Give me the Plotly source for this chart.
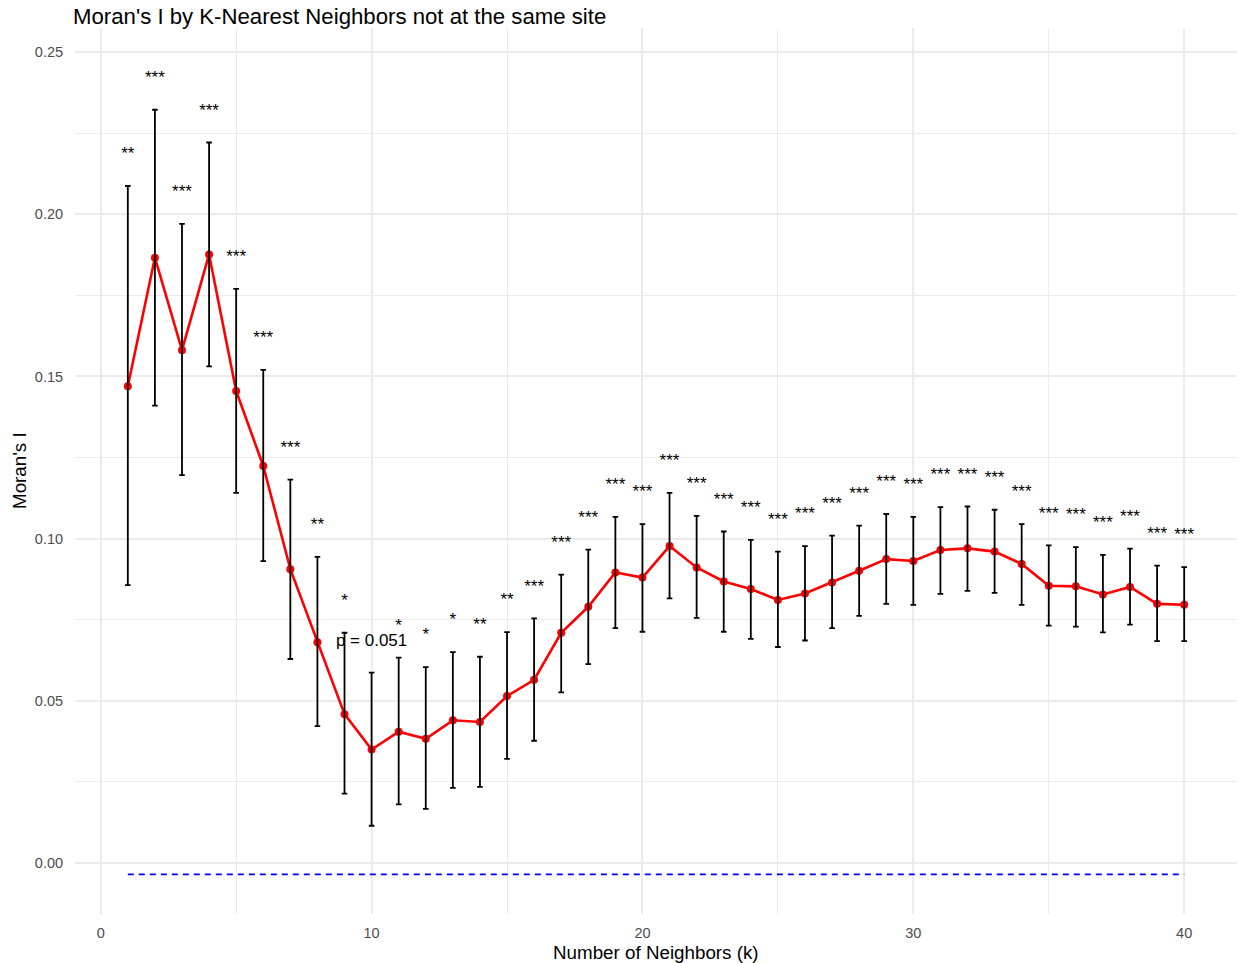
import plotly.graph_objects as go

# Data
k = list(range(1, 41))
moran_i = [0.1470, 0.1866, 0.1581, 0.1876, 0.1455, 0.1224, 0.0906, 0.0681, 0.0459, 0.0350,
           0.0405, 0.0383, 0.0440, 0.0435, 0.0515, 0.0565, 0.0710, 0.0790, 0.0896, 0.0880,
           0.0977, 0.0911, 0.0868, 0.0845, 0.0811, 0.0831, 0.0865, 0.0901, 0.0937, 0.0931,
           0.0965, 0.0970, 0.0960, 0.0922, 0.0855, 0.0853, 0.0828, 0.0851, 0.0799, 0.0796]
ci_upper = [0.2087, 0.2322, 0.1970, 0.2221, 0.1770, 0.1520, 0.1182, 0.0944, 0.0710, 0.0587,
            0.0633, 0.0604, 0.0650, 0.0636, 0.0712, 0.0754, 0.0889, 0.0966, 0.1067, 0.1045,
            0.1141, 0.1070, 0.1022, 0.0996, 0.0960, 0.0977, 0.1009, 0.1040, 0.1076, 0.1067,
            0.1097, 0.1099, 0.1089, 0.1045, 0.0979, 0.0974, 0.0950, 0.0969, 0.0917, 0.0912]
ci_lower = [0.0857, 0.1410, 0.1196, 0.1531, 0.1141, 0.0931, 0.0629, 0.0422, 0.0214, 0.0115,
            0.0181, 0.0167, 0.0232, 0.0235, 0.0321, 0.0377, 0.0526, 0.0613, 0.0724, 0.0713,
            0.0816, 0.0756, 0.0713, 0.0691, 0.0666, 0.0686, 0.0724, 0.0762, 0.0799, 0.0796,
            0.0830, 0.0839, 0.0833, 0.0796, 0.0732, 0.0729, 0.0711, 0.0735, 0.0684, 0.0684]
sig_labels = ["**", "***", "***", "***", "***", "***", "***", "**", "*", "p = 0.051",
              "*", "*", "*", "**", "**", "***", "***", "***", "***", "***",
              "***", "***", "***", "***", "***", "***", "***", "***", "***", "***",
              "***", "***", "***", "***", "***", "***", "***", "***", "***", "***"]
expected_i = -0.0035

x_ticks = [0, 10, 20, 30, 40]
y_ticks = [0.00, 0.05, 0.10, 0.15, 0.20, 0.25]
y_tick_text = ["0.00", "0.05", "0.10", "0.15", "0.20", "0.25"]

LABEL_OFFSET = 0.0096
FONT = "Liberation Sans, Arial, sans-serif"

err_plus = [u - m for u, m in zip(ci_upper, moran_i)]
err_minus = [m - l for m, l in zip(moran_i, ci_lower)]
label_y = [u + LABEL_OFFSET for u in ci_upper]

fig = go.Figure()

# expected value line
fig.add_trace(go.Scatter(
    x=[k[0], k[-1]], y=[expected_i, expected_i], mode="lines",
    line=dict(color="blue", width=1.6, dash="6px,5px"),
    hoverinfo="skip", showlegend=False))

# red line with points
fig.add_trace(go.Scatter(
    x=k, y=moran_i, mode="lines+markers",
    line=dict(color="red", width=2.6),
    marker=dict(color="red", size=8),
    showlegend=False))

# error bars (drawn on top)
fig.add_trace(go.Scatter(
    x=k, y=moran_i, mode="markers",
    marker=dict(color="rgba(0,0,0,0)", size=1),
    error_y=dict(type="data", symmetric=False, array=err_plus, arrayminus=err_minus,
                 color="black", thickness=1.8, width=2.8),
    hoverinfo="skip", showlegend=False))

# significance labels
fig.add_trace(go.Scatter(
    x=k, y=label_y, mode="text", text=sig_labels,
    textposition="middle center",
    textfont=dict(family=FONT, size=17, color="black"),
    hoverinfo="skip", showlegend=False))

grid = "#EBEBEB"
fig.update_layout(
    width=1239, height=963,
    margin=dict(l=75, r=2, t=28, b=49, autoexpand=False),
    paper_bgcolor="white", plot_bgcolor="white",
    font=dict(family=FONT, color="black"),
    title=dict(text="Moran's I by K-Nearest Neighbors not at the same site",
               x=73 / 1239, xanchor="left", xref="container",
               y=1 - 16 / 963, yanchor="middle", yref="container",
               font=dict(family=FONT, size=22.2, color="black")),
    xaxis=dict(
        range=[-0.95, 41.95], tickvals=x_ticks, ticktext=[str(v) for v in x_ticks],
        showgrid=True, gridcolor=grid, gridwidth=1.6, zeroline=False, showline=False,
        automargin=False,
        ticks="outside", ticklen=6, tickcolor="rgba(0,0,0,0)",
        tickfont=dict(family=FONT, size=14.5, color="#4D4D4D"),
        minor=dict(tickvals=[5, 15, 25, 35], showgrid=True, gridcolor=grid, gridwidth=0.8),
    ),
    yaxis=dict(
        range=[-0.0157, 0.2574], tickvals=y_ticks, ticktext=y_tick_text,
        showgrid=True, gridcolor=grid, gridwidth=1.6, zeroline=False, showline=False,
        automargin=False,
        ticks="outside", ticklen=8, tickcolor="rgba(0,0,0,0)",
        tickfont=dict(family=FONT, size=14.5, color="#4D4D4D"),
        minor=dict(tickvals=[0.025, 0.075, 0.125, 0.175, 0.225], showgrid=True,
                   gridcolor=grid, gridwidth=0.8),
    ),
    annotations=[
        dict(text="Number of Neighbors (k)", xref="paper", yref="paper",
             x=(656 - 75) / (1239 - 77), y=0, xanchor="center", yanchor="middle", yshift=-38,
             showarrow=False, font=dict(family=FONT, size=18.8, color="black")),
        dict(text="Moran's I", xref="paper", yref="paper",
             x=0, y=0.5, xanchor="center", yanchor="middle", xshift=-56,
             textangle=-90, showarrow=False,
             font=dict(family=FONT, size=18.8, color="black")),
    ],
)

fig.write_html(
    "out.html",
    config={"displayModeBar": False},
    post_script="document.body.style.margin='0';document.body.style.overflow='hidden';",
)
